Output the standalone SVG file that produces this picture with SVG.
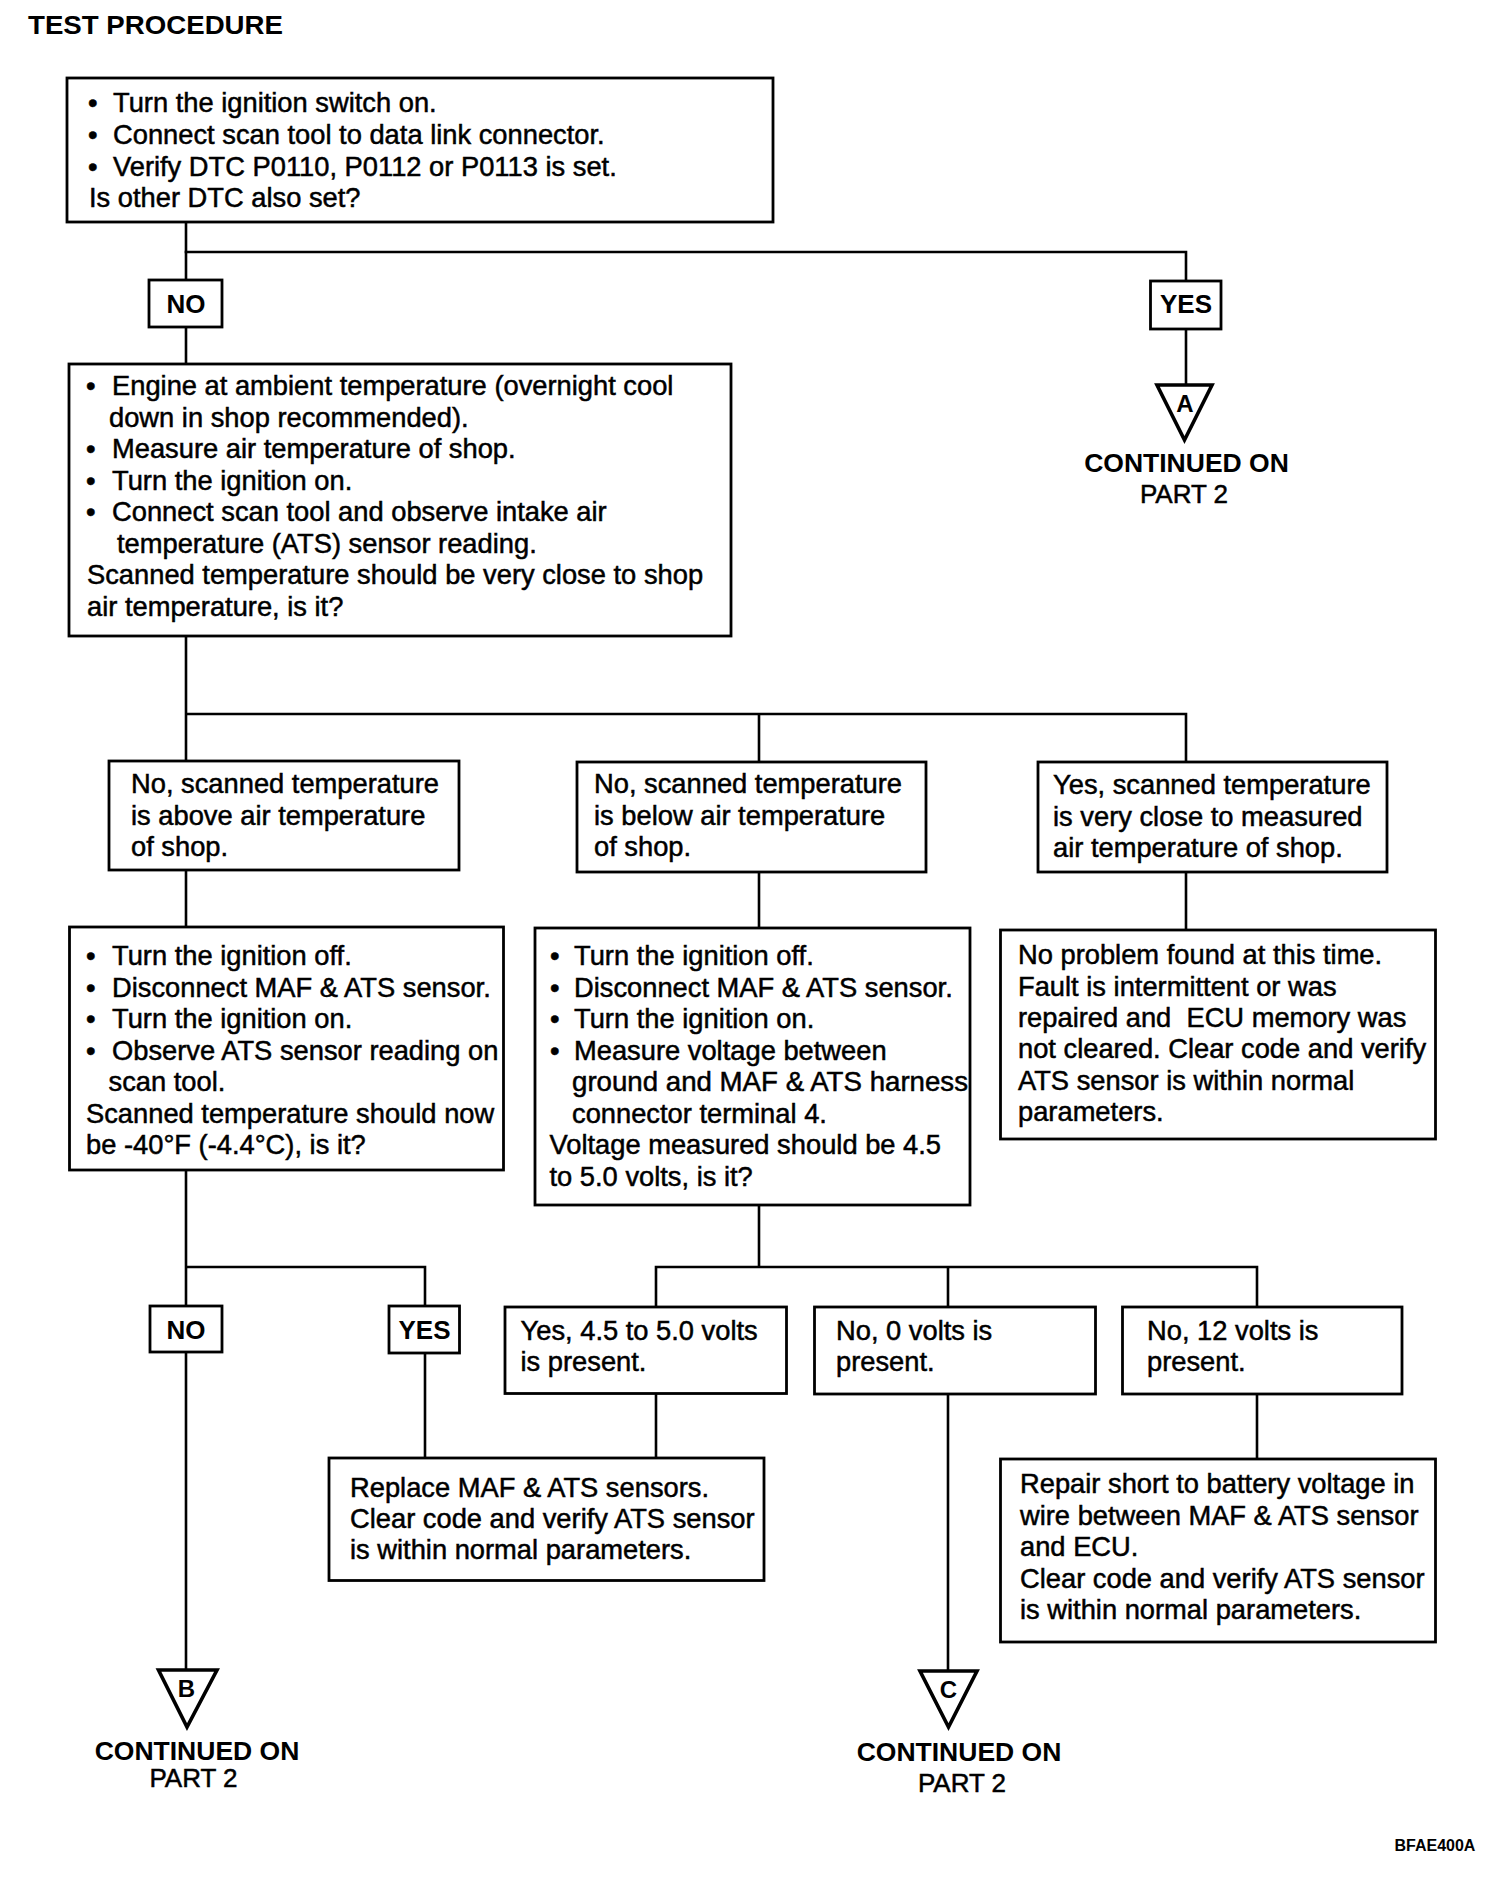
<svg xmlns="http://www.w3.org/2000/svg" width="1504" height="1896" viewBox="0 0 1504 1896">
<style>
.box{fill:#fff;stroke:#000;stroke-width:2.8}
.tri{fill:#fff;stroke:#000;stroke-width:3.6;stroke-linejoin:miter;stroke-miterlimit:10}
.t{font-family:"Liberation Sans",Arial,Helvetica,sans-serif;font-size:27.3px;fill:#000;stroke:#000;stroke-width:0.5}
.lb{font-family:"Liberation Sans",Arial,Helvetica,sans-serif;font-size:26px;font-weight:bold;fill:#000;text-anchor:middle}
.cap{font-family:"Liberation Sans",Arial,Helvetica,sans-serif;font-size:26.5px;font-weight:bold;fill:#000;text-anchor:middle}
.pt{font-family:"Liberation Sans",Arial,Helvetica,sans-serif;font-size:26px;fill:#000;text-anchor:middle;stroke:#000;stroke-width:0.5}
.ltr{font-family:"Liberation Sans",Arial,Helvetica,sans-serif;font-size:24px;font-weight:bold;fill:#000;text-anchor:middle}
.conn{stroke:#000;stroke-width:2.6;fill:none;stroke-linecap:square}
</style>
<rect width="1504" height="1896" fill="#fff"/>
<text x="28" y="34" font-family="Liberation Sans, Arial, sans-serif" font-size="26" font-weight="bold" textLength="255" lengthAdjust="spacingAndGlyphs">TEST PROCEDURE</text>

<g id="connectors">
<path class="conn" d="M186,222 V280 M186,327 V364"/>
<path class="conn" d="M186,252 H1186 V281 M1186,329 V385"/>
<path class="conn" d="M186,636 V761 M186,714 H1186 V762 M759,714 V762"/>
<path class="conn" d="M186,870 V927 M759,872 V928 M1186,872 V930"/>
<path class="conn" d="M186,1170 V1306 M186,1267 H425 V1306 M186,1352 V1670 M425,1353 V1458"/>
<path class="conn" d="M759,1205 V1267 M656,1267 H1257 M656,1267 V1307 M948,1267 V1307 M1257,1267 V1307"/>
<path class="conn" d="M656,1393 V1458 M948,1394 V1671 M1257,1394 V1459"/>
</g>

<g id="n1">
<rect class="box" x="67" y="78" width="706" height="144"/>
<text class="t" y="112"><tspan x="88">•</tspan><tspan x="113">Turn the ignition switch on.</tspan></text>
<text class="t" y="144"><tspan x="88">•</tspan><tspan x="113">Connect scan tool to data link connector.</tspan></text>
<text class="t" y="176"><tspan x="88">•</tspan><tspan x="113">Verify DTC P0110, P0112 or P0113 is set.</tspan></text>
<text class="t" x="89" y="207">Is other DTC also set?</text>
</g>

<g id="no1">
<rect class="box" x="149" y="280" width="73" height="47"/>
<text class="lb" x="186" y="313">NO</text>
</g>
<g id="yes1">
<rect class="box" x="1150.5" y="281" width="70.5" height="48"/>
<text class="lb" x="1186" y="313">YES</text>
</g>
<g id="contA">
<polygon class="tri" points="1157,385 1212,385 1184.5,440"/>
<text class="ltr" x="1185" y="412">A</text>
<text class="cap" x="1186.5" y="472">CONTINUED ON</text>
<text class="pt" x="1184" y="503">PART 2</text>
</g>

<g id="n2">
<rect class="box" x="69" y="364" width="662" height="272"/>
<text class="t" y="395"><tspan x="86">•</tspan><tspan x="112">Engine at ambient temperature (overnight cool</tspan></text>
<text class="t" x="109" y="426.5">down in shop recommended).</text>
<text class="t" y="458"><tspan x="86">•</tspan><tspan x="112">Measure air temperature of shop.</tspan></text>
<text class="t" y="489.5"><tspan x="86">•</tspan><tspan x="112">Turn the ignition on.</tspan></text>
<text class="t" y="521"><tspan x="86">•</tspan><tspan x="112">Connect scan tool and observe intake air</tspan></text>
<text class="t" x="117" y="552.5">temperature (ATS) sensor reading.</text>
<text class="t" x="87" y="584">Scanned temperature should be very close to shop</text>
<text class="t" x="87" y="615.5">air temperature, is it?</text>
</g>

<g id="n3a">
<rect class="box" x="109" y="761" width="350" height="109"/>
<text class="t" x="131" y="793">No, scanned temperature</text>
<text class="t" x="131" y="825">is above air temperature</text>
<text class="t" x="131" y="856">of shop.</text>
</g>
<g id="n3b">
<rect class="box" x="577" y="762" width="349" height="110"/>
<text class="t" x="594" y="793">No, scanned temperature</text>
<text class="t" x="594" y="825">is below air temperature</text>
<text class="t" x="594" y="856">of shop.</text>
</g>
<g id="n3c">
<rect class="box" x="1038" y="762" width="349" height="110"/>
<text class="t" x="1053" y="793.5">Yes, scanned temperature</text>
<text class="t" x="1053" y="825.5">is very close to measured</text>
<text class="t" x="1053" y="856.5">air temperature of shop.</text>
</g>

<g id="n4a">
<rect class="box" x="69.5" y="927" width="434" height="243"/>
<text class="t" y="965"><tspan x="86">•</tspan><tspan x="112">Turn the ignition off.</tspan></text>
<text class="t" y="996.5"><tspan x="86">•</tspan><tspan x="112">Disconnect MAF &amp; ATS sensor.</tspan></text>
<text class="t" y="1028"><tspan x="86">•</tspan><tspan x="112">Turn the ignition on.</tspan></text>
<text class="t" y="1059.5"><tspan x="86">•</tspan><tspan x="112">Observe ATS sensor reading on</tspan></text>
<text class="t" x="108.5" y="1091">scan tool.</text>
<text class="t" x="86" y="1122.5">Scanned temperature should now</text>
<text class="t" x="86" y="1154">be -40°F (-4.4°C), is it?</text>
</g>

<g id="n4b">
<rect class="box" x="535" y="928" width="435" height="277"/>
<text class="t" y="965"><tspan x="550">•</tspan><tspan x="574">Turn the ignition off.</tspan></text>
<text class="t" y="996.5"><tspan x="550">•</tspan><tspan x="574">Disconnect MAF &amp; ATS sensor.</tspan></text>
<text class="t" y="1028"><tspan x="550">•</tspan><tspan x="574">Turn the ignition on.</tspan></text>
<text class="t" y="1059.5"><tspan x="550">•</tspan><tspan x="574">Measure voltage between</tspan></text>
<text class="t" x="572" y="1091" textLength="396" lengthAdjust="spacingAndGlyphs">ground and MAF &amp; ATS harness</text>
<text class="t" x="572" y="1122.5">connector terminal 4.</text>
<text class="t" x="549.5" y="1154">Voltage measured should be 4.5</text>
<text class="t" x="549.5" y="1186">to 5.0 volts, is it?</text>
</g>

<g id="n4c">
<rect class="box" x="1000.5" y="930" width="435" height="209"/>
<text class="t" x="1018" y="964">No problem found at this time.</text>
<text class="t" x="1018" y="995.5">Fault is intermittent or was</text>
<text class="t" x="1018" y="1026.5" xml:space="preserve">repaired and  ECU memory was</text>
<text class="t" x="1018" y="1058">not cleared. Clear code and verify</text>
<text class="t" x="1018" y="1089.5">ATS sensor is within normal</text>
<text class="t" x="1018" y="1121">parameters.</text>
</g>

<g id="no2">
<rect class="box" x="150" y="1306" width="72" height="46"/>
<text class="lb" x="186" y="1339">NO</text>
</g>
<g id="yes2">
<rect class="box" x="389" y="1306" width="70.5" height="47"/>
<text class="lb" x="424.5" y="1339">YES</text>
</g>

<g id="n5a">
<rect class="box" x="505" y="1307" width="281.5" height="86.5"/>
<text class="t" x="520.5" y="1340">Yes, 4.5 to 5.0 volts</text>
<text class="t" x="520.5" y="1371">is present.</text>
</g>
<g id="n5b">
<rect class="box" x="814.5" y="1307" width="281" height="87"/>
<text class="t" x="836" y="1340">No, 0 volts is</text>
<text class="t" x="836" y="1371">present.</text>
</g>
<g id="n5c">
<rect class="box" x="1122.5" y="1307" width="279.5" height="87"/>
<text class="t" x="1147" y="1340">No, 12 volts is</text>
<text class="t" x="1147" y="1371">present.</text>
</g>

<g id="n6a">
<rect class="box" x="329" y="1458" width="435" height="122.5"/>
<text class="t" x="350" y="1496.5">Replace MAF &amp; ATS sensors.</text>
<text class="t" x="350" y="1528">Clear code and verify ATS sensor</text>
<text class="t" x="350" y="1559">is within normal parameters.</text>
</g>
<g id="n6c">
<rect class="box" x="1000.5" y="1459" width="435" height="183"/>
<text class="t" x="1020" y="1493">Repair short to battery voltage in</text>
<text class="t" x="1020" y="1524.5">wire between MAF &amp; ATS sensor</text>
<text class="t" x="1020" y="1556">and ECU.</text>
<text class="t" x="1020" y="1587.5">Clear code and verify ATS sensor</text>
<text class="t" x="1020" y="1619">is within normal parameters.</text>
</g>

<g id="contB">
<polygon class="tri" points="158.5,1670 217,1670 187,1727"/>
<text class="ltr" x="186.5" y="1697">B</text>
<text class="cap" x="197" y="1760">CONTINUED ON</text>
<text class="pt" x="193.5" y="1787">PART 2</text>
</g>
<g id="contC">
<polygon class="tri" points="920,1671 977,1671 948.5,1727"/>
<text class="ltr" x="948.5" y="1698">C</text>
<text class="cap" x="959" y="1761">CONTINUED ON</text>
<text class="pt" x="962" y="1791.5">PART 2</text>
</g>

<text x="1394.5" y="1850.5" font-family="Liberation Sans, Arial, sans-serif" font-size="16" font-weight="bold" fill="#000">BFAE400A</text>
</svg>
